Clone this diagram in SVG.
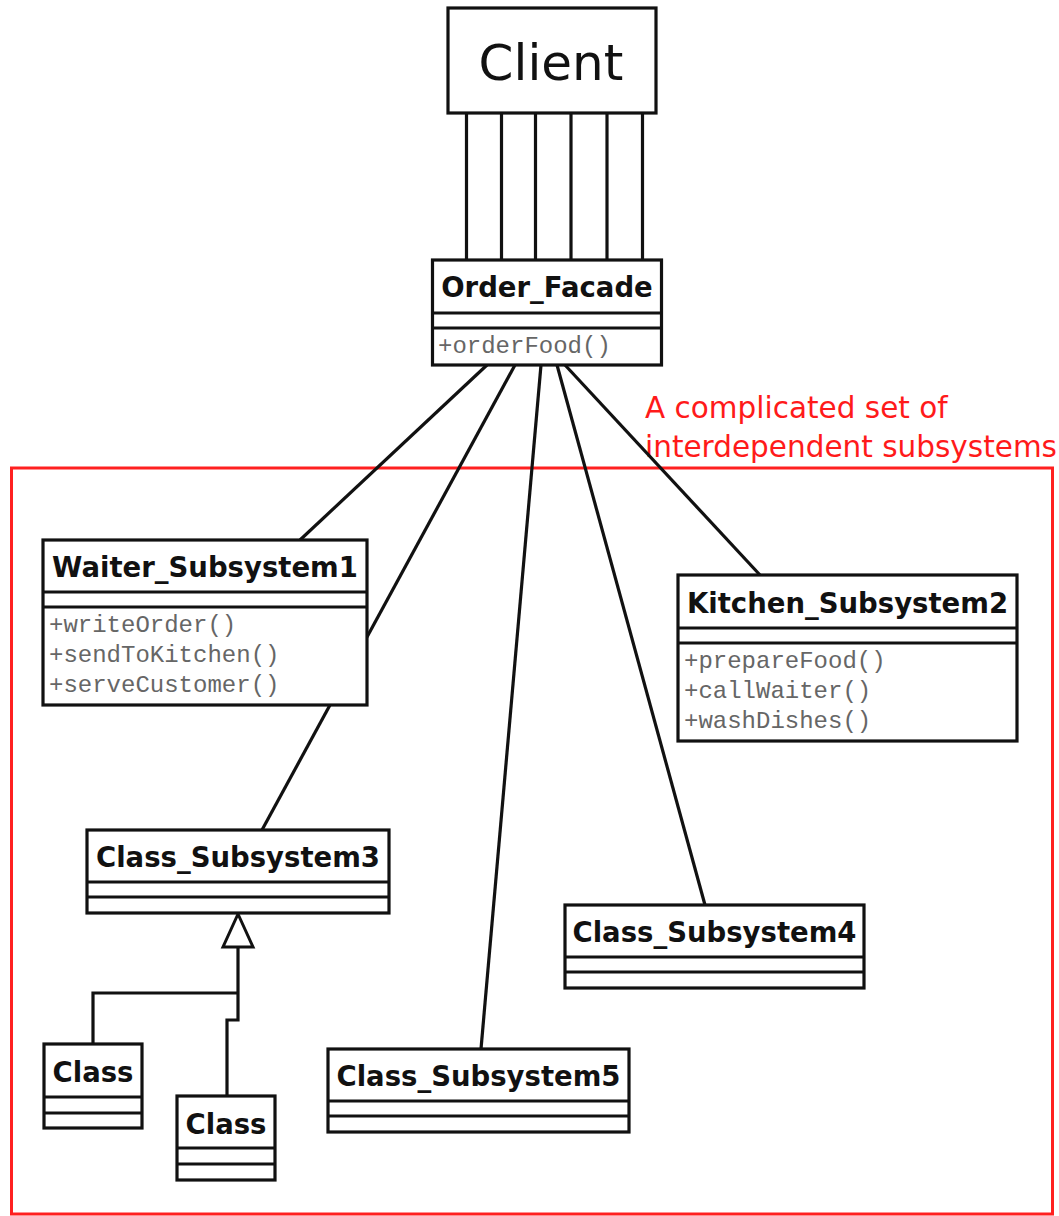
<svg xmlns="http://www.w3.org/2000/svg" width="1059" height="1216" viewBox="0 0 1059 1216">
  <style>
    .box { fill: #fff; stroke: #111; stroke-width: 3.2; }
    .sep { stroke: #111; stroke-width: 3.2; }
    .title { font-family: "DejaVu Sans", Verdana, sans-serif; font-weight: bold; font-size: 27.5px; fill: #111; text-anchor: middle; }
    .op { font-family: "Liberation Mono", "Courier New", monospace; font-size: 24px; fill: #666; }
    .link { stroke: #111; stroke-width: 3.2; fill: none; }
    .note { font-family: "DejaVu Sans", Tahoma, sans-serif; font-size: 29.5px; fill: #ff1a1a; }
  </style>

  <!-- subsystem boundary -->
  <rect x="11.5" y="468" width="1041" height="746" fill="none" stroke="#ff2020" stroke-width="3"/>
  <text class="note" x="645" y="418">A complicated set of</text>
  <text class="note" x="645" y="457">interdependent subsystems</text>

  <!-- connectors -->
  <g id="connectors">
    <line class="link" x1="466.5" y1="113" x2="466.5" y2="260"/>
    <line class="link" x1="501.5" y1="113" x2="501.5" y2="260"/>
    <line class="link" x1="535.5" y1="113" x2="535.5" y2="260"/>
    <line class="link" x1="571" y1="113" x2="571" y2="260"/>
    <line class="link" x1="607" y1="113" x2="607" y2="260"/>
    <line class="link" x1="642.5" y1="113" x2="642.5" y2="260"/>
    <line class="link" x1="487" y1="365" x2="300" y2="540"/>
    <line class="link" x1="515" y1="365" x2="262" y2="830"/>
    <line class="link" x1="541" y1="365" x2="481" y2="1049"/>
    <line class="link" x1="557" y1="365" x2="705" y2="905"/>
    <line class="link" x1="565" y1="365" x2="760" y2="575"/>
    <!-- generalization to Class_Subsystem3 -->
    <polyline class="link" points="238,947 238,1020 227,1020 227,1096"/>
    <polyline class="link" points="238,993 93,993 93,1044"/>
    <polygon points="238,914 223,947 253,947" fill="#fff" stroke="#111" stroke-width="3" stroke-linejoin="miter"/>
  </g>

  <g id="client">
    <rect class="box" x="448" y="8" width="208" height="105"/>
    <text x="551" y="80" font-family="DejaVu Sans, Tahoma, sans-serif" font-size="50" fill="#111" text-anchor="middle">Client</text>
  </g>

  <g id="order-facade">
    <rect class="box" x="432.5" y="260" width="229" height="105"/>
    <line class="sep" x1="432.5" y1="313" x2="661.5" y2="313"/>
    <line class="sep" x1="432.5" y1="328" x2="661.5" y2="328"/>
    <text class="title" x="547" y="297">Order_Facade</text>
    <text class="op" x="438" y="353">+orderFood()</text>
  </g>

  <g id="waiter-subsystem1">
    <rect class="box" x="43" y="540" width="324" height="165"/>
    <line class="sep" x1="43" y1="592" x2="367" y2="592"/>
    <line class="sep" x1="43" y1="607" x2="367" y2="607"/>
    <text class="title" x="205" y="577">Waiter_Subsystem1</text>
    <text class="op" x="49" y="632">+writeOrder()</text>
    <text class="op" x="49" y="662">+sendToKitchen()</text>
    <text class="op" x="49" y="692">+serveCustomer()</text>
  </g>

  <g id="kitchen-subsystem2">
    <rect class="box" x="678" y="575" width="339" height="166"/>
    <line class="sep" x1="678" y1="628" x2="1017" y2="628"/>
    <line class="sep" x1="678" y1="643" x2="1017" y2="643"/>
    <text class="title" x="847.5" y="613">Kitchen_Subsystem2</text>
    <text class="op" x="684" y="668">+prepareFood()</text>
    <text class="op" x="684" y="698">+callWaiter()</text>
    <text class="op" x="684" y="728">+washDishes()</text>
  </g>

  <g id="class-subsystem3">
    <rect class="box" x="87" y="830" width="302" height="83"/>
    <line class="sep" x1="87" y1="882" x2="389" y2="882"/>
    <line class="sep" x1="87" y1="897" x2="389" y2="897"/>
    <text class="title" x="238" y="867">Class_Subsystem3</text>
  </g>

  <g id="class-subsystem4">
    <rect class="box" x="565" y="905" width="299" height="83"/>
    <line class="sep" x1="565" y1="957" x2="864" y2="957"/>
    <line class="sep" x1="565" y1="972" x2="864" y2="972"/>
    <text class="title" x="714.5" y="942">Class_Subsystem4</text>
  </g>

  <g id="class-subsystem5">
    <rect class="box" x="328" y="1049" width="301" height="83"/>
    <line class="sep" x1="328" y1="1101" x2="629" y2="1101"/>
    <line class="sep" x1="328" y1="1116" x2="629" y2="1116"/>
    <text class="title" x="478.5" y="1086">Class_Subsystem5</text>
  </g>

  <g id="class-a">
    <rect class="box" x="44" y="1044" width="98" height="84"/>
    <line class="sep" x1="44" y1="1097" x2="142" y2="1097"/>
    <line class="sep" x1="44" y1="1113" x2="142" y2="1113"/>
    <text class="title" x="93" y="1082">Class</text>
  </g>

  <g id="class-b">
    <rect class="box" x="177" y="1096" width="98" height="84"/>
    <line class="sep" x1="177" y1="1148" x2="275" y2="1148"/>
    <line class="sep" x1="177" y1="1164" x2="275" y2="1164"/>
    <text class="title" x="226" y="1134">Class</text>
  </g>
</svg>
